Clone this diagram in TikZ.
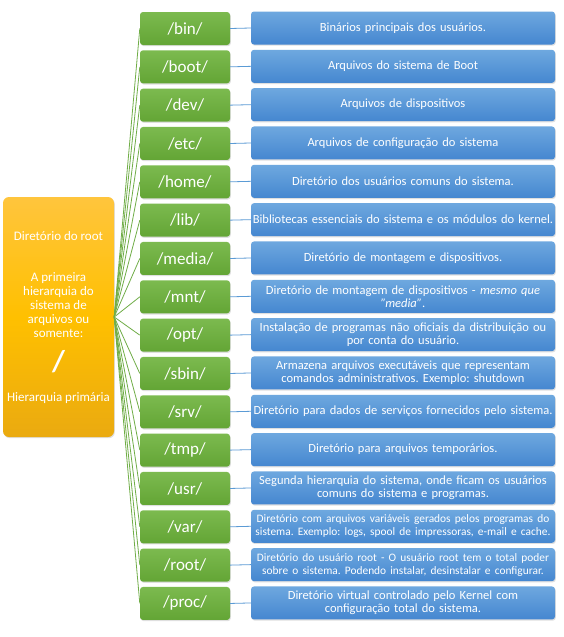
\documentclass[tikz,border=0pt]{standalone}
\usepackage{fontspec}
\setmainfont{Carlito}
\usetikzlibrary{shadows}
\definecolor{gtop}{HTML}{7CBA4F}
\definecolor{gbot}{HTML}{63A535}
\definecolor{btop}{HTML}{6EA8DF}
\definecolor{bbot}{HTML}{4587D0}
\definecolor{otop}{HTML}{FFC53D}
\definecolor{omid}{HTML}{FFC000}
\definecolor{obot}{HTML}{EAAA10}
\definecolor{gline}{HTML}{70AD47}
\definecolor{bline}{HTML}{5B9BD5}
\newcommand{\smallrow}{\fontsize{11.4}{12.5}\selectfont}
\tikzset{
  dirbox/.style={rounded corners=3pt, minimum width=90pt, minimum height=33pt, inner sep=0pt,
    top color=gtop, bottom color=gbot, draw=none, text=white,
    font=\fontsize{17}{19}\selectfont,
    drop shadow={shadow xshift=0.8pt, shadow yshift=-1.2pt, opacity=0.25}},
  descbox/.style={rounded corners=3pt, minimum width=304pt, minimum height=33pt, inner sep=0pt,
    top color=btop, bottom color=bbot, draw=none, text=white, align=center,
    text width=304pt, font=\fontsize{12.5}{13}\selectfont,
    drop shadow={shadow xshift=0.8pt, shadow yshift=-1.2pt, opacity=0.25}},
  rootbox/.style={rounded corners=6pt, minimum width=111pt, minimum height=240pt, inner sep=0pt,
    top color=otop, bottom color=obot, middle color=omid, draw=none,
    drop shadow={shadow xshift=0.8pt, shadow yshift=-1.2pt, opacity=0.25}},
  roottxt/.style={text=white, align=center, font=\fontsize{13}{14}\selectfont},
  gconn/.style={draw=gline, line width=0.8pt},
  bconn/.style={draw=bline, line width=0.8pt}
}
\begin{document}
\frenchspacing
\begin{tikzpicture}[x=1pt,y=-1pt]
\useasboundingbox[fill=white] (0,0) rectangle (564,637);
\node[rootbox] (root) at (58.5,317) {};
\node[roottxt] (rt1) at (58.5,236) {Diretório do root};
\node[roottxt] (rt2) at (58.5,305) {A primeira\\hierarquia do\\sistema de\\arquivos ou\\somente:};
\node[roottxt, font=\fontsize{30}{32}\selectfont\bfseries] (rt3) at (58.5,362) {/};
\node[roottxt] (rt4) at (58.5,398) {Hierarquia primária};

\foreach \i/\d/\t in {
 0/bin/{Binários principais dos usuários.},
 1/boot/{Arquivos do sistema de Boot},
 2/dev/{Arquivos de dispositivos},
 3/etc/{Arquivos de configuração do sistema},
 4/home/{Diretório dos usuários comuns do sistema.},
 5/lib/{Bibliotecas essenciais do sistema e os módulos do kernel.},
 6/media/{Diretório de montagem e dispositivos.},
 7/mnt/{Diretório de montagem de dispositivos - \emph{mesmo que\\"media"}.},
 8/opt/{Instalação de programas não oficiais da distribuição ou\\por conta do usuário.},
 9/sbin/{Armazena arquivos executáveis que representam\\comandos administrativos. Exemplo: shutdown},
 10/srv/{Diretório para dados de serviços fornecidos pelo sistema.},
 11/tmp/{Diretório para arquivos temporários.},
 12/usr/{Segunda hierarquia do sistema, onde ficam os usuários\\comuns do sistema e programas.},
 13/var/{\smallrow Diretório com arquivos variáveis gerados pelos programas do\\sistema. Exemplo: logs, spool de impressoras, e-mail e cache.},
 14/root/{\smallrow Diretório do usuário root - O usuário root tem o total poder\\sobre o sistema. Podendo instalar, desinstalar e configurar.},
 15/proc/{Diretório virtual controlado pelo Kernel com\\configuração total do sistema.}}
{
  \pgfmathsetmacro{\yy}{28.5+38.33*\i}
  \node[dirbox] (d\i) at (185,\yy) {/\d/};
  \node[descbox] (e\i) at (403,\yy-0.5) {\t};
  \draw[gconn] (root.east) -- (d\i.west);
  \draw[bconn] (d\i.east) -- (e\i.west);
}
\end{tikzpicture}
\end{document}
